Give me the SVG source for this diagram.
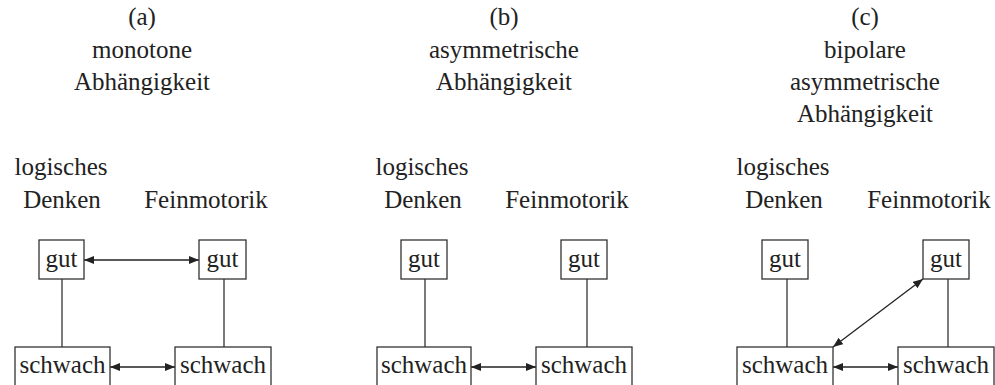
<svg xmlns="http://www.w3.org/2000/svg" width="995" height="385" viewBox="0 0 995 385">
<style>
text{font-family:'Liberation Serif','Times New Roman',Times,'DejaVu Serif',serif;font-size:25px;fill:#222;text-anchor:middle}
.box{fill:#fff;stroke:#333;stroke-width:1.3}
.ln{stroke:#333;stroke-width:1.3;fill:none}
.ar{stroke:#222;stroke-width:1.3;fill:none;marker-start:url(#ah);marker-end:url(#ah)}
</style>
<defs>
<marker id="ah" viewBox="0 0 10 8" refX="10" refY="4" markerWidth="10" markerHeight="8" markerUnits="userSpaceOnUse" orient="auto-start-reverse">
<path d="M0,0 L10,4 L0,8 Z" fill="#222"/>
</marker>
</defs>
<g id="titles">
<text x="142" y="25" font-family="Liberation Serif">(a)</text>
<text x="142" y="58" font-family="Liberation Serif">monotone</text>
<text x="142" y="90" font-family="Liberation Serif">Abhängigkeit</text>
<text x="504" y="25" font-family="Liberation Serif">(b)</text>
<text x="504" y="58" font-family="Liberation Serif">asymmetrische</text>
<text x="504" y="90" font-family="Liberation Serif">Abhängigkeit</text>
<text x="865" y="25" font-family="Liberation Serif">(c)</text>
<text x="865" y="58" font-family="Liberation Serif">bipolare</text>
<text x="865" y="90" font-family="Liberation Serif">asymmetrische</text>
<text x="865" y="122" font-family="Liberation Serif">Abhängigkeit</text>
</g>
<g id="headers">
<text x="61" y="175" font-family="Liberation Serif">logisches</text>
<text x="62" y="208" font-family="Liberation Serif">Denken</text>
<text x="206" y="208" font-family="Liberation Serif">Feinmotorik</text>
<text x="422" y="175" font-family="Liberation Serif">logisches</text>
<text x="423" y="208" font-family="Liberation Serif">Denken</text>
<text x="567" y="208" font-family="Liberation Serif">Feinmotorik</text>
<text x="783" y="175" font-family="Liberation Serif">logisches</text>
<text x="784" y="208" font-family="Liberation Serif">Denken</text>
<text x="929" y="208" font-family="Liberation Serif">Feinmotorik</text>
</g>
<g id="connectors">
<line class="ln" x1="62" y1="279" x2="62" y2="347"/>
<line class="ln" x1="224" y1="279" x2="224" y2="347"/>
<line class="ar" x1="84" y1="260" x2="199" y2="260"/>
<line class="ar" x1="110" y1="367" x2="175" y2="367"/>
<line class="ln" x1="425" y1="279" x2="425" y2="347"/>
<line class="ln" x1="587" y1="279" x2="587" y2="347"/>
<line class="ar" x1="471" y1="367" x2="536" y2="367"/>
<line class="ln" x1="787" y1="279" x2="787" y2="347"/>
<line class="ln" x1="948" y1="279" x2="948" y2="347"/>
<line class="ar" x1="833" y1="367" x2="898" y2="367"/>
<line class="ar" x1="833" y1="347" x2="923" y2="279"/>
</g>
<g id="a-gut-l"><rect class="box" x="39" y="240" width="45" height="39"/><text x="61.5" y="267" font-family="Liberation Serif">gut</text></g>
<g id="a-gut-r"><rect class="box" x="199" y="240" width="47" height="39"/><text x="222.5" y="267" font-family="Liberation Serif">gut</text></g>
<g id="a-schwach-l"><rect class="box" x="15" y="347" width="95" height="40"/><text x="62.5" y="373" font-family="Liberation Serif">schwach</text></g>
<g id="a-schwach-r"><rect class="box" x="175" y="347" width="96" height="40"/><text x="223" y="373" font-family="Liberation Serif">schwach</text></g>
<g id="b-gut-l"><rect class="box" x="401" y="240" width="46" height="39"/><text x="424" y="267" font-family="Liberation Serif">gut</text></g>
<g id="b-gut-r"><rect class="box" x="561" y="240" width="46" height="39"/><text x="584" y="267" font-family="Liberation Serif">gut</text></g>
<g id="b-schwach-l"><rect class="box" x="377" y="347" width="94" height="40"/><text x="424" y="373" font-family="Liberation Serif">schwach</text></g>
<g id="b-schwach-r"><rect class="box" x="536" y="347" width="96" height="40"/><text x="584" y="373" font-family="Liberation Serif">schwach</text></g>
<g id="c-gut-l"><rect class="box" x="762" y="240" width="46" height="39"/><text x="785" y="267" font-family="Liberation Serif">gut</text></g>
<g id="c-gut-r"><rect class="box" x="923" y="240" width="46" height="39"/><text x="946" y="267" font-family="Liberation Serif">gut</text></g>
<g id="c-schwach-l"><rect class="box" x="737" y="347" width="96" height="40"/><text x="785" y="373" font-family="Liberation Serif">schwach</text></g>
<g id="c-schwach-r"><rect class="box" x="898" y="347" width="96" height="40"/><text x="946" y="373" font-family="Liberation Serif">schwach</text></g>
</svg>
